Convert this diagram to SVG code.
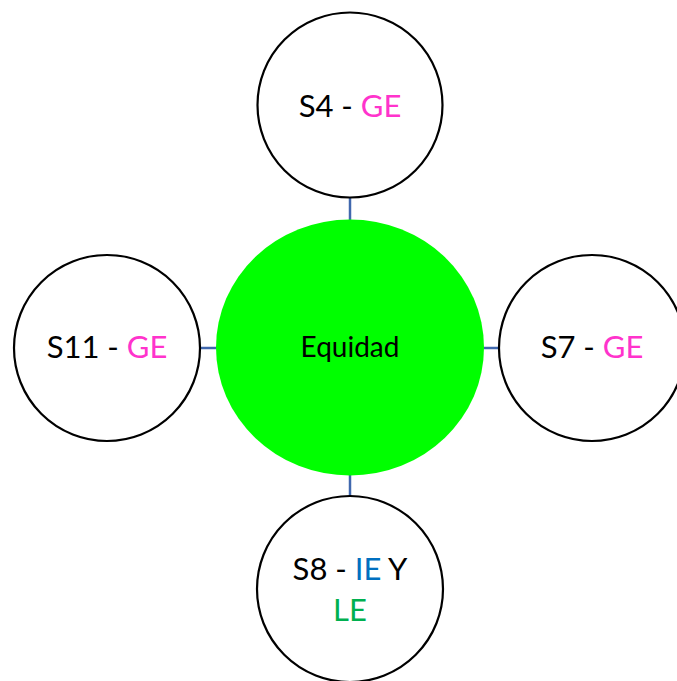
<svg xmlns="http://www.w3.org/2000/svg" width="677" height="681" viewBox="0 0 677 681">
  <style>
    .ring { fill: #ffffff; stroke: #000000; stroke-width: 2.2; }
    .hub { fill: #00FF00; stroke: none; }
    .link { stroke: #4068AE; stroke-width: 2.5; fill: none; }
    .lbl { font-family: Lato, "Liberation Sans", sans-serif; font-size: 31px; fill: #000000; text-anchor: middle; }
    .hubtxt { font-family: Lato, "Liberation Sans", sans-serif; font-size: 28px; fill: #000000; text-anchor: middle; }
    .ge { fill: #FF33CC; }
    .ie { fill: #0070C0; }
    .le { fill: #00B050; }
  </style>
  <rect width="677" height="681" fill="#ffffff"/>
  <g id="connectors">
    <line class="link" x1="350" y1="197" x2="350" y2="220"/>
    <line class="link" x1="200" y1="348" x2="216" y2="348"/>
    <line class="link" x1="484" y1="348" x2="499" y2="348"/>
    <line class="link" x1="350" y1="475" x2="350" y2="496"/>
  </g>
  <g id="equidad">
    <ellipse class="hub" cx="350" cy="347.5" rx="134" ry="128"/>
    <text class="hubtxt" x="350" y="357">Equidad</text>
  </g>
  <g id="s4">
    <circle class="ring" cx="350" cy="105" r="92.5"/>
    <text class="lbl" x="350" y="117">S4 - <tspan class="ge">GE</tspan></text>
  </g>
  <g id="s11">
    <circle class="ring" cx="107" cy="348" r="93"/>
    <text class="lbl" x="107" y="358">S11 - <tspan class="ge">GE</tspan></text>
  </g>
  <g id="s7">
    <circle class="ring" cx="592" cy="348" r="93"/>
    <text class="lbl" x="592" y="358">S7 - <tspan class="ge">GE</tspan></text>
  </g>
  <g id="s8">
    <circle class="ring" cx="350" cy="589" r="93"/>
    <text class="lbl" x="350" y="580">S8 - <tspan class="ie">IE</tspan> Y</text>
    <text class="lbl le" x="350" y="621">LE</text>
  </g>
</svg>
